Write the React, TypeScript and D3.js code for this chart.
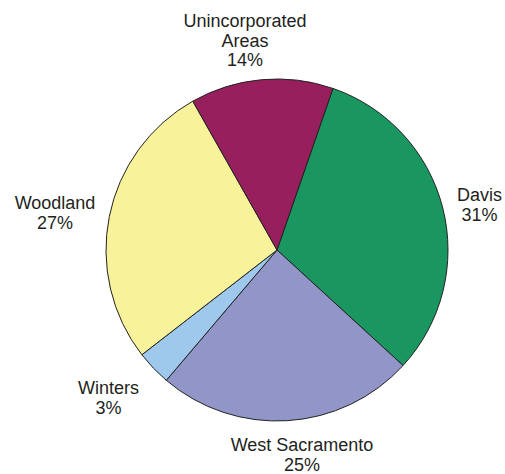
import React from "react";
import * as d3 from "d3";

const categories = ["Davis", "West Sacramento", "Winters", "Woodland", "Unincorporated Areas"];
const values = [31.5, 24.4, 3.3, 27.3, 13.5];
const labelLines = [["Davis", "31%"], ["West Sacramento", "25%"], ["Winters", "3%"], ["Woodland", "27%"], ["Unincorporated", "Areas", "14%"]];
const colors = ["#1a9660", "#9195c8", "#9fc9ec", "#f8f29b", "#981f5e"];

// label anchors (x centre, first baseline) relative to pie centre — layout, not data
const labelPos: [number, number][] = [[202.5, -49], [25, 201], [-168.5, 144], [-222, -41], [-32, -223]];

export default function App() {
  const W = 505, H = 474;
  const cx = 277, cy = 250, r = 171;
  const start = (19.1 * Math.PI) / 180;
  const pie = d3.pie<number>().sort(null).value((d) => d).startAngle(start).endAngle(start + 2 * Math.PI);
  const arcs = pie(values);
  const arc = d3.arc<d3.PieArcDatum<number>>().innerRadius(0).outerRadius(r);
  return (
    <svg width={W} height={H} style={{ position: "absolute", left: 0, top: 0 }}>
      <rect width={W} height={H} fill="#fff" />
      <g transform={`translate(${cx},${cy})`}>
        {arcs.map((a, i) => (
          <path key={categories[i]} d={arc(a) || ""} fill={colors[i]} stroke="#222" strokeWidth={1} strokeLinejoin="round" />
        ))}
        {labelLines.map((lines, i) => (
          <text key={i} x={labelPos[i][0]} y={labelPos[i][1]} textAnchor="middle" fontFamily="'Liberation Sans', Arial, sans-serif" fontSize={18} fill="#231f20">
            {lines.map((l, j) => (
              <tspan key={j} x={labelPos[i][0]} dy={j === 0 ? 0 : 19.5}>{l}</tspan>
            ))}
          </text>
        ))}
      </g>
    </svg>
  );
}
